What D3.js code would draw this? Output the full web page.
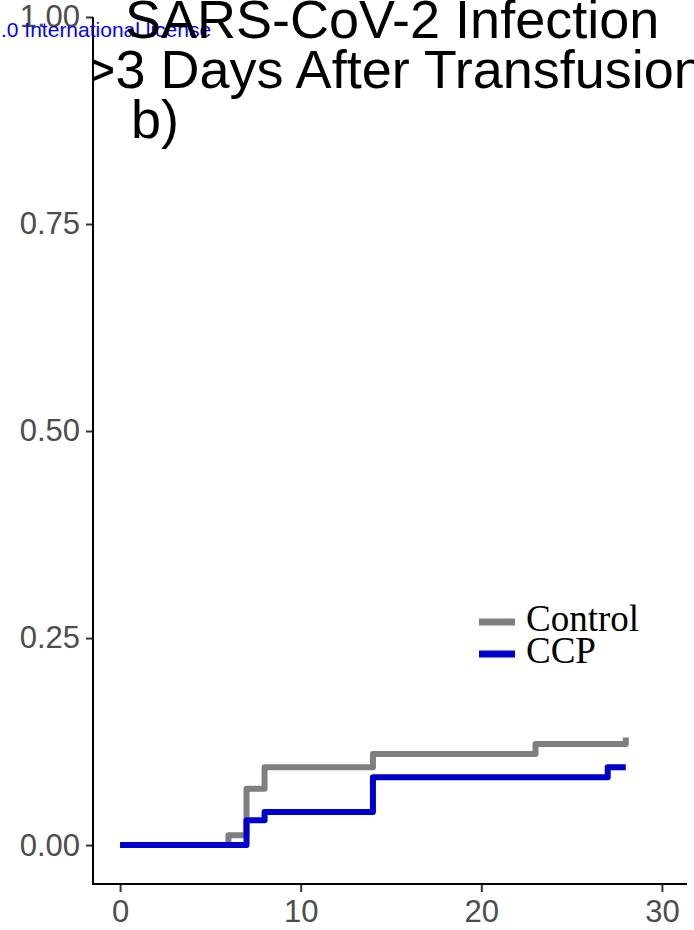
<!DOCTYPE html>
<html>
<head>
<meta charset="utf-8">
<script src="https://cdn.jsdelivr.net/npm/d3@7"></script>
<style>
  body { margin: 0; background: #fff; }
  svg { display: block; }
</style>
</head>
<body>
<div id="chart"></div>
<script>
// data
var controlTimes = [0, 6, 7, 8, 14, 23, 28];
var controlValues = [0, 0.012, 0.068, 0.094, 0.110, 0.122, 0.130];
var ccpTimes = [0, 7, 8, 14, 27, 28];
var ccpValues = [0, 0.030, 0.040, 0.082, 0.094, 0.094];
var xTicks = [0, 10, 20, 30];
var yTicks = [0, 0.25, 0.5, 0.75, 1];
var legendLabels = ["Control", "CCP"];
var titleLines = ["SARS-CoV-2 Infection", ">3 Days After Transfusion", "b)"];

var width = 694, height = 930;

var svg = d3.select("#chart").append("svg")
    .attr("width", width)
    .attr("height", height);

var x = d3.scaleLinear().domain([-1.5, 31.5]).range([93, 689]);
var y = d3.scaleLinear().domain([-0.047, 1]).range([884, 17]);

// axes
var yAxis = svg.append("g")
    .attr("transform", "translate(93,0)")
    .call(d3.axisLeft(y).tickValues(yTicks).tickSize(7).tickPadding(6)
        .tickFormat(d3.format(".2f")));
var xAxis = svg.append("g")
    .attr("transform", "translate(0,884)")
    .call(d3.axisBottom(x).tickValues(xTicks).tickSize(8).tickPadding(6));

[yAxis, xAxis].forEach(function (g) {
    g.select(".domain").remove();
    g.selectAll(".tick line").attr("stroke", "#333").attr("stroke-width", 2);
    g.selectAll(".tick text")
        .attr("fill", "#4d4d4d")
        .style("font-family", "Arial, 'Liberation Sans', sans-serif")
        .style("font-size", "31px");
});
xAxis.selectAll(".tick text").attr("dy", "0.78em");

svg.append("path")
    .attr("d", "M93," + y.range()[1] + "V884H687")
    .attr("fill", "none")
    .attr("stroke", "#000")
    .attr("stroke-width", 2);

// curves
var line = d3.line()
    .curve(d3.curveStepAfter)
    .x(function (d) { return x(d[0]); })
    .y(function (d) { return y(d[1]); });

var series = [
    { name: "Control", color: "#7f7f7f", pts: d3.zip(controlTimes, controlValues) },
    { name: "CCP", color: "#0000cd", pts: d3.zip(ccpTimes, ccpValues) }
];

svg.append("g").selectAll("path")
    .data(series)
    .enter().append("path")
    .attr("d", function (d) { return line(d.pts); })
    .attr("fill", "none")
    .attr("stroke", function (d) { return d.color; })
    .attr("stroke-width", 6)
    .attr("stroke-linejoin", "round");

// legend
var legend = svg.append("g").attr("transform", "translate(479,622)");
var items = legend.selectAll("g")
    .data(legendLabels)
    .enter().append("g")
    .attr("transform", function (d, i) { return "translate(0," + (i * 32) + ")"; });
items.append("line")
    .attr("x1", 0).attr("x2", 36)
    .attr("stroke", function (d, i) { return series[i].color; })
    .attr("stroke-width", 7);
items.append("text")
    .attr("x", 47)
    .attr("y", 9)
    .style("font-family", "'Times New Roman', 'Liberation Serif', serif")
    .style("font-size", "37px")
    .attr("fill", "#000")
    .text(function (d) { return d; });

// watermark text behind the title
svg.append("text")
    .attr("x", 1)
    .attr("y", 37)
    .attr("fill", "#0000ff")
    .style("font-family", "Arial, 'Liberation Sans', sans-serif")
    .style("font-size", "21px")
    .text(".0 International license");

// title, clipped at the y axis
svg.append("clipPath").attr("id", "titleClip")
    .append("rect").attr("x", 94).attr("y", 0).attr("width", 600).attr("height", 200);

var titleX = [125, 84, 131];
svg.append("g").attr("clip-path", "url(#titleClip)")
    .selectAll("text")
    .data(titleLines)
    .enter().append("text")
    .attr("x", function (d, i) { return titleX[i]; })
    .attr("y", function (d, i) { return 38 + i * 50; })
    .attr("fill", "#000")
    .style("font-family", "Arial, 'Liberation Sans', sans-serif")
    .style("font-size", "54px")
    .text(function (d) { return d; });
</script>
</body>
</html>
